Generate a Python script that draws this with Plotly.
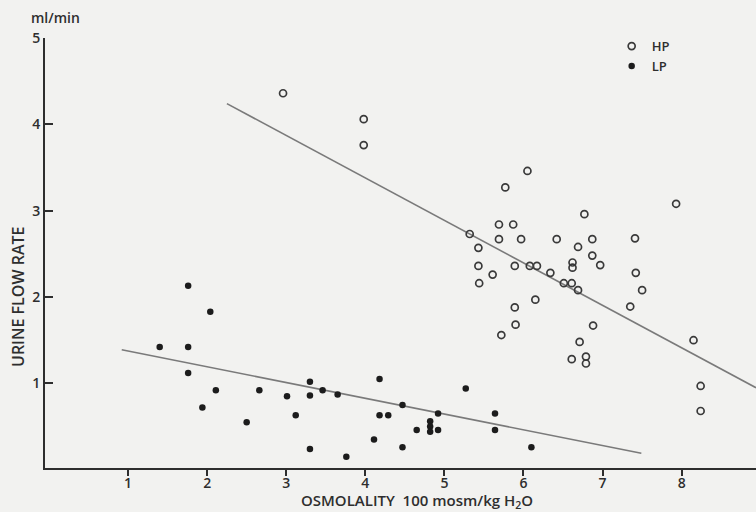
import plotly.graph_objects as go

# HP (open circles)
hp_x = [2.96, 3.98, 3.98, 6.05, 5.77, 6.77, 7.93, 5.69, 5.87, 5.32,
        5.69, 5.97, 6.42, 6.87, 7.41, 6.69, 5.43, 6.87, 5.43, 5.89,
        6.08, 6.17, 6.62, 6.62, 6.97, 5.61, 6.34, 7.42, 5.44, 6.51,
        6.61, 6.69, 7.50, 6.15, 7.35, 5.89, 5.90, 6.88, 5.72, 6.71,
        8.15, 6.61, 6.79, 6.79, 8.24, 8.24]
hp_y = [4.36, 4.06, 3.76, 3.46, 3.27, 2.96, 3.08, 2.84, 2.84, 2.73,
        2.67, 2.67, 2.67, 2.67, 2.68, 2.58, 2.57, 2.48, 2.36, 2.36,
        2.36, 2.36, 2.40, 2.34, 2.37, 2.26, 2.28, 2.28, 2.16, 2.16,
        2.16, 2.08, 2.08, 1.97, 1.89, 1.88, 1.68, 1.67, 1.56, 1.48,
        1.50, 1.28, 1.31, 1.23, 0.97, 0.68]

# LP (filled circles)
lp_x = [1.76, 2.04, 1.40, 1.76, 1.76, 2.11, 2.66, 1.94, 2.50, 3.01,
        3.30, 3.30, 3.46, 3.65, 3.12, 3.30, 3.76, 4.18, 4.18, 4.29,
        4.11, 4.47, 4.47, 4.65, 4.82, 4.82, 4.82, 4.92, 4.92, 5.27,
        5.64, 5.64, 6.10]
lp_y = [2.13, 1.83, 1.42, 1.42, 1.12, 0.92, 0.92, 0.72, 0.55, 0.85,
        1.02, 0.86, 0.92, 0.87, 0.63, 0.24, 0.15, 1.05, 0.63, 0.63,
        0.35, 0.75, 0.26, 0.46, 0.56, 0.50, 0.44, 0.65, 0.46, 0.94,
        0.65, 0.46, 0.26]

# regression line end points
hp_fit_x = [2.25, 8.94]
hp_fit_y = [4.24, 0.95]
lp_fit_x = [0.92, 7.49]
lp_fit_y = [1.39, 0.19]

x_ticks = [1, 2, 3, 4, 5, 6, 7, 8]
y_ticks = [1, 2, 3, 4, 5]

ink = "#2e2e2e"
line_grey = "#7a7a7a"
bg = "#f2f2f0"
font_fam = "Open Sans, DejaVu Sans, sans-serif"

fig = go.Figure()
fig.add_trace(go.Scatter(x=hp_fit_x, y=hp_fit_y, mode="lines",
                         line=dict(color=line_grey, width=1.6),
                         showlegend=False, hoverinfo="skip"))
fig.add_trace(go.Scatter(x=lp_fit_x, y=lp_fit_y, mode="lines",
                         line=dict(color=line_grey, width=1.6),
                         showlegend=False, hoverinfo="skip"))
fig.add_trace(go.Scatter(x=hp_x, y=hp_y, mode="markers", name="HP",
                         marker=dict(symbol="circle-open", size=7,
                                     color="#3a3a3a",
                                     line=dict(width=1.7, color="#3a3a3a"))))
fig.add_trace(go.Scatter(x=lp_x, y=lp_y, mode="markers", name="LP",
                         marker=dict(symbol="circle", size=6.5, color="#1c1c1c")))

fig.update_layout(
    width=756, height=512,
    margin=dict(l=45, r=0, t=38, b=44, autoexpand=False),
    paper_bgcolor=bg, plot_bgcolor=bg,
    font=dict(family=font_fam, color=ink, size=14),
    legend=dict(x=0.797, y=1.016, xanchor="left", yanchor="top",
                bgcolor="rgba(0,0,0,0)", font=dict(size=13, color=ink, weight=600),
                itemwidth=30, tracegroupgap=0),
    xaxis=dict(range=[-0.05, 8.94], tickvals=x_ticks, showgrid=False,
               zeroline=False, showline=True, linecolor=ink, linewidth=2,
               ticks="outside", ticklen=6, tickwidth=1.5, tickcolor=ink,
               automargin=False, ticklabelstandoff=-5,
               tickfont=dict(size=14, color=ink, weight=600)),
    yaxis=dict(range=[0.02, 5.0], tickvals=y_ticks, showgrid=False,
               zeroline=False, showline=True, linecolor=ink, linewidth=2,
               ticks="inside", ticklen=8, tickwidth=1.5, tickcolor=ink,
               automargin=False,
               tickfont=dict(size=14, color=ink, weight=600)),
    annotations=[
        dict(text="ml/min", x=55, y=18, showarrow=False,
             font=dict(size=14, color=ink, weight=600)),
        dict(text="URINE FLOW RATE", x=18, y=297, showarrow=False,
             textangle=-90, font=dict(size=16, color=ink, weight=600)),
        dict(text="OSMOLALITY  100 mosm/kg H<sub>2</sub>O", x=417, y=501,
             showarrow=False, font=dict(size=15, color=ink, weight=600)),
    ],
)

# convert pixel-placed annotations to paper coordinates
pl, pr, pt, pb = 45, 756, 38, 468
for a in fig.layout.annotations:
    a.xref = "paper"
    a.yref = "paper"
    a.x = (a.x - pl) / (pr - pl)
    a.y = (pb - a.y) / (pb - pt)
    a.xanchor = "center"
    a.yanchor = "middle"

fig.write_html(
    "out.html",
    config={"displayModeBar": False},
    post_script="document.body.style.margin='0';"
                "document.body.style.background='" + bg + "';",
)
